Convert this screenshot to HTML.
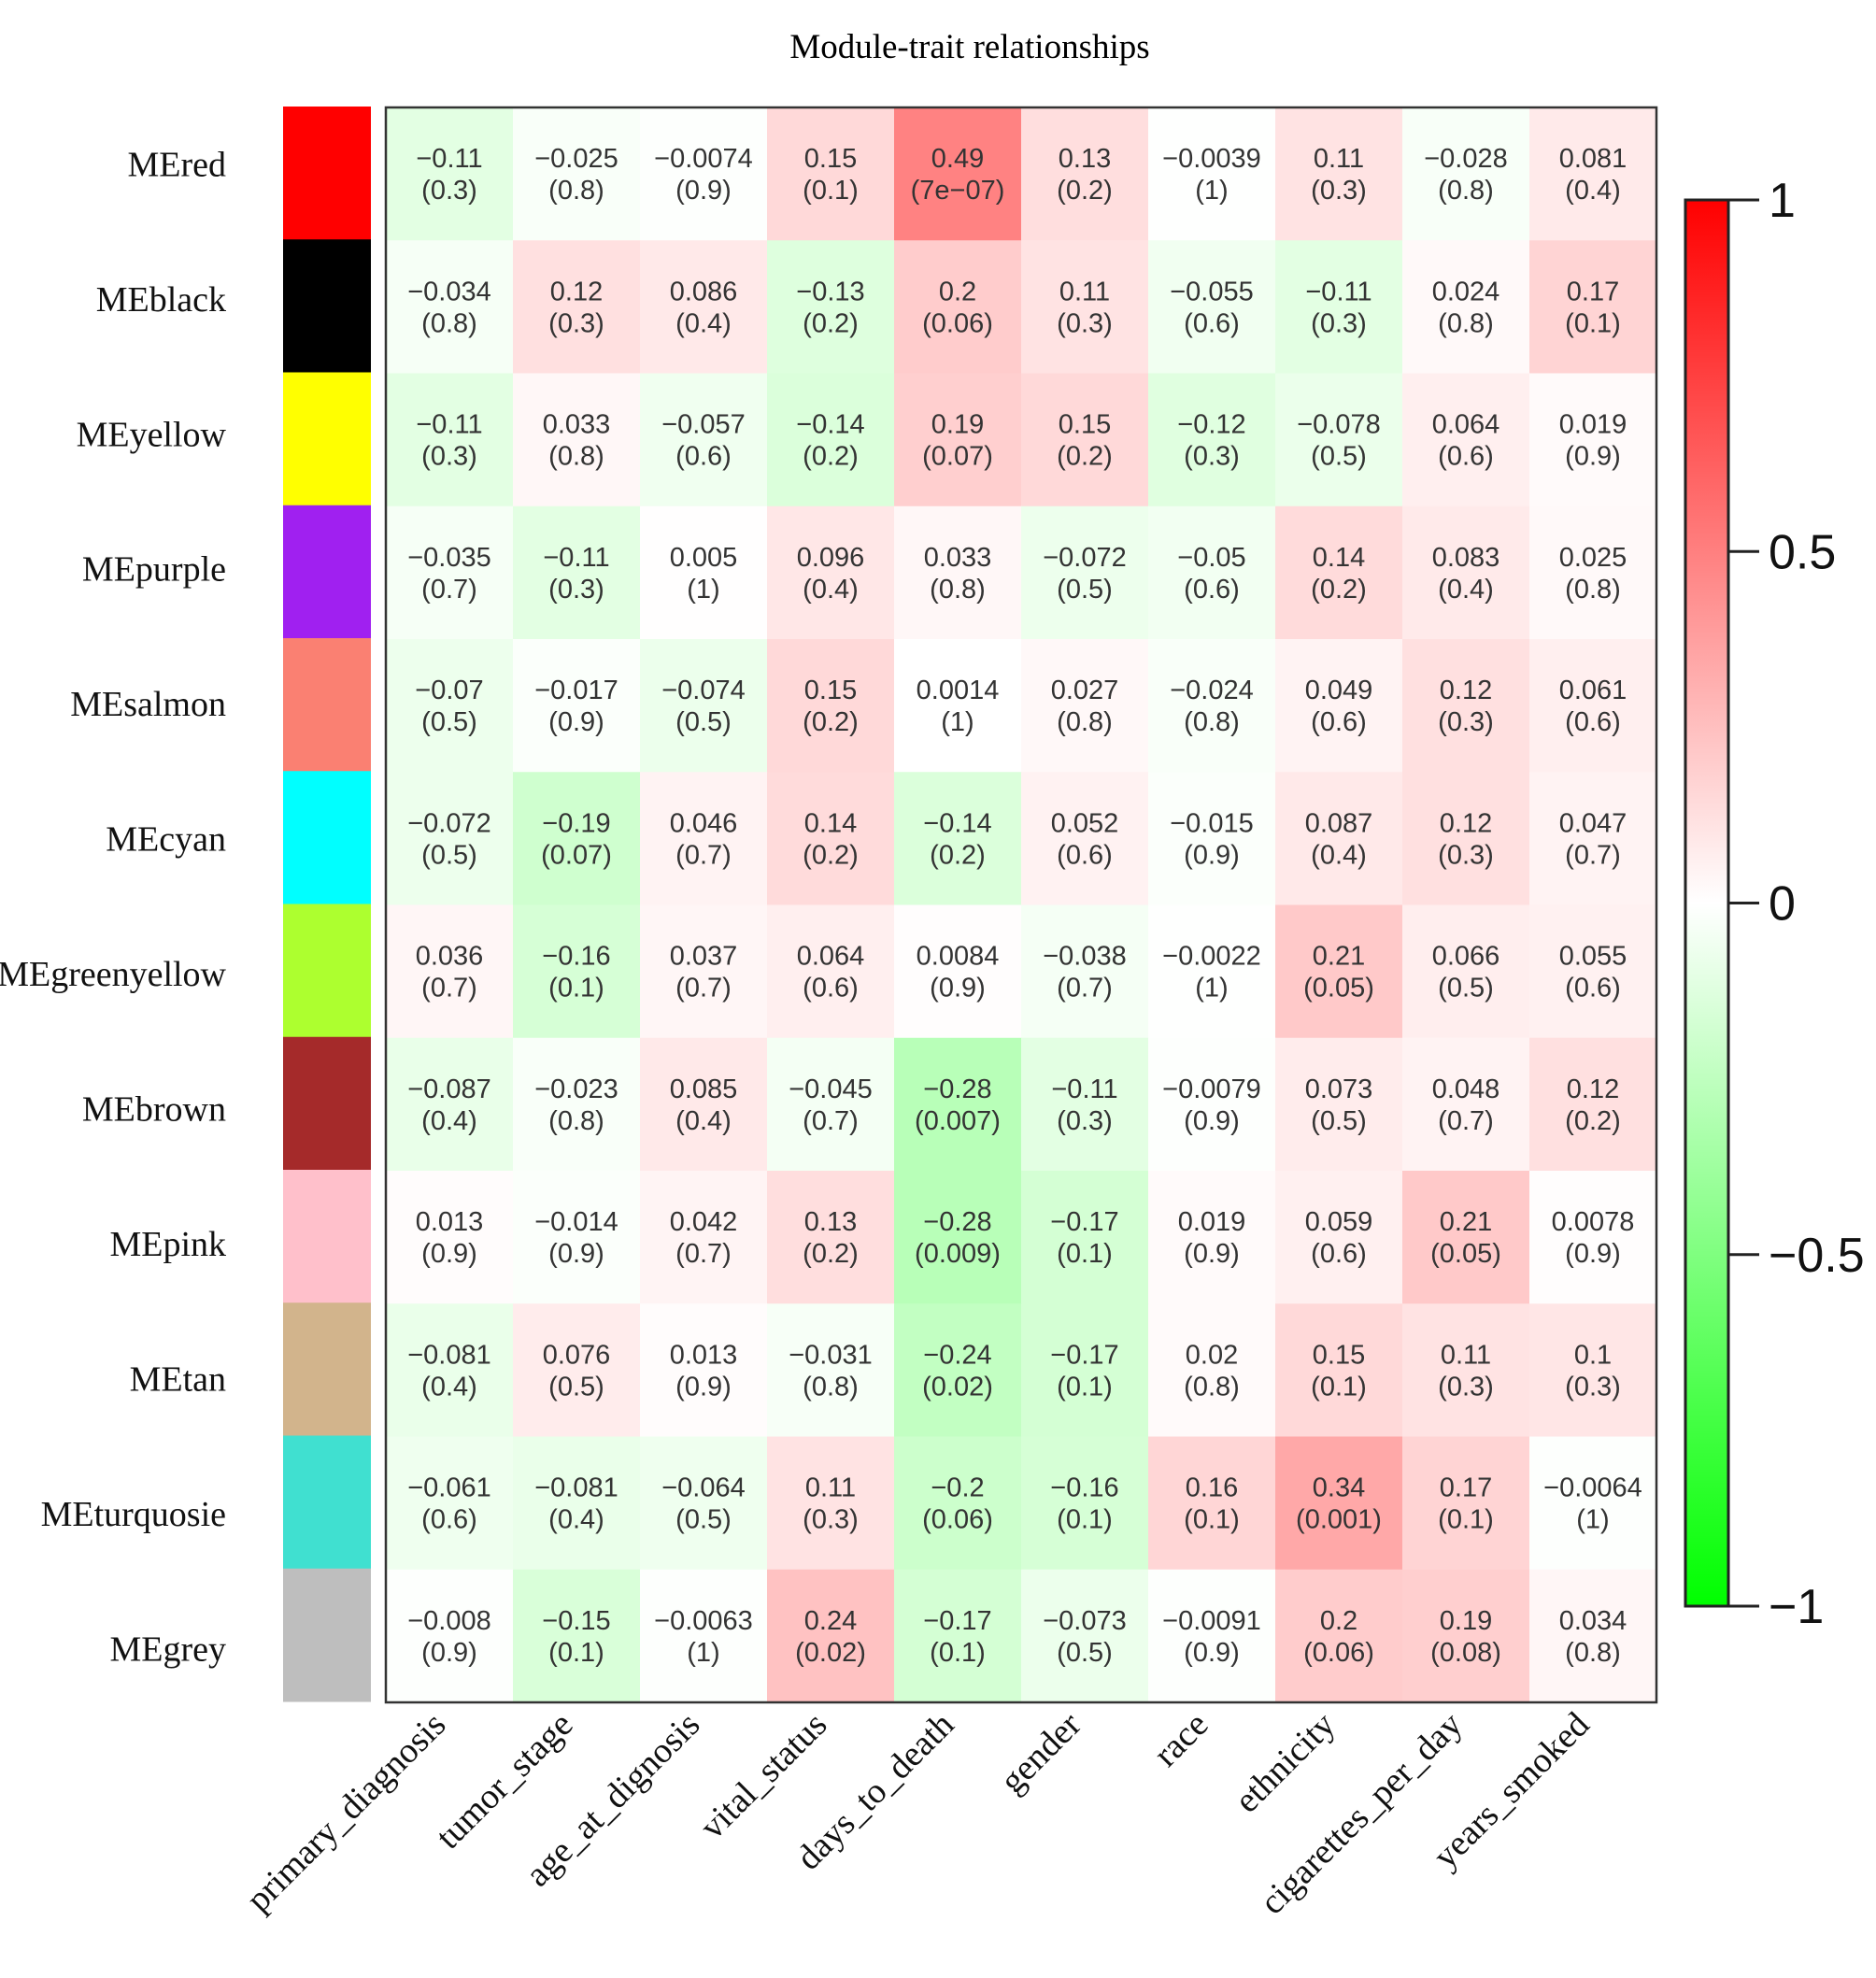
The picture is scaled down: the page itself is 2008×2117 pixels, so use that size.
<!DOCTYPE html>
<html><head><meta charset="utf-8"><style>
html,body{margin:0;padding:0;background:#fff;}
svg{display:block;}
</style></head><body>
<svg id="chart" width="2008" height="2117" viewBox="0 0 2008 2117" xmlns="http://www.w3.org/2000/svg">
<text x="1038" y="62" text-anchor="middle" font-family="Liberation Serif, serif" font-size="37">Module-trait relationships</text>
<g id="cells"></g>
<g id="modules"></g>
<g id="xlabels"></g>
<rect x="413" y="115" width="1360" height="1707" fill="none" stroke="#333" stroke-width="2.5"/>
<g id="colorbar"></g>
</svg>
<script>
const modules=["MEred","MEblack","MEyellow","MEpurple","MEsalmon","MEcyan","MEgreenyellow","MEbrown","MEpink","MEtan","MEturquosie","MEgrey"];
const moduleColors=["#ff0000","#000000","#ffff00","#a020f0","#fa8072","#00ffff","#adff2f","#a52a2a","#ffc0cb","#d2b48c","#40e0d0","#bebebe"];
const traits=["primary_diagnosis","tumor_stage","age_at_dignosis","vital_status","days_to_death","gender","race","ethnicity","cigarettes_per_day","years_smoked"];
const corr=[
["-0.11","-0.025","-0.0074","0.15","0.49","0.13","-0.0039","0.11","-0.028","0.081"],
["-0.034","0.12","0.086","-0.13","0.2","0.11","-0.055","-0.11","0.024","0.17"],
["-0.11","0.033","-0.057","-0.14","0.19","0.15","-0.12","-0.078","0.064","0.019"],
["-0.035","-0.11","0.005","0.096","0.033","-0.072","-0.05","0.14","0.083","0.025"],
["-0.07","-0.017","-0.074","0.15","0.0014","0.027","-0.024","0.049","0.12","0.061"],
["-0.072","-0.19","0.046","0.14","-0.14","0.052","-0.015","0.087","0.12","0.047"],
["0.036","-0.16","0.037","0.064","0.0084","-0.038","-0.0022","0.21","0.066","0.055"],
["-0.087","-0.023","0.085","-0.045","-0.28","-0.11","-0.0079","0.073","0.048","0.12"],
["0.013","-0.014","0.042","0.13","-0.28","-0.17","0.019","0.059","0.21","0.0078"],
["-0.081","0.076","0.013","-0.031","-0.24","-0.17","0.02","0.15","0.11","0.1"],
["-0.061","-0.081","-0.064","0.11","-0.2","-0.16","0.16","0.34","0.17","-0.0064"],
["-0.008","-0.15","-0.0063","0.24","-0.17","-0.073","-0.0091","0.2","0.19","0.034"]];
const pvals=[
["0.3","0.8","0.9","0.1","7e-07","0.2","1","0.3","0.8","0.4"],
["0.8","0.3","0.4","0.2","0.06","0.3","0.6","0.3","0.8","0.1"],
["0.3","0.8","0.6","0.2","0.07","0.2","0.3","0.5","0.6","0.9"],
["0.7","0.3","1","0.4","0.8","0.5","0.6","0.2","0.4","0.8"],
["0.5","0.9","0.5","0.2","1","0.8","0.8","0.6","0.3","0.6"],
["0.5","0.07","0.7","0.2","0.2","0.6","0.9","0.4","0.3","0.7"],
["0.7","0.1","0.7","0.6","0.9","0.7","1","0.05","0.5","0.6"],
["0.4","0.8","0.4","0.7","0.007","0.3","0.9","0.5","0.7","0.2"],
["0.9","0.9","0.7","0.2","0.009","0.1","0.9","0.6","0.05","0.9"],
["0.4","0.5","0.9","0.8","0.02","0.1","0.8","0.1","0.3","0.3"],
["0.6","0.4","0.5","0.3","0.06","0.1","0.1","0.001","0.1","1"],
["0.9","0.1","1","0.02","0.1","0.5","0.9","0.06","0.08","0.8"]];
const cbTicks=[1,0.5,0,-0.5,-1];

const NS="http://www.w3.org/2000/svg";
const X0=413,Y0=115,CW=136,RH=1707/12;
const xPos=j=>X0+j*CW;
const yPos=i=>Y0+i*RH;
function col(v){
  const t=Math.min(1,Math.abs(v));const k=Math.round(255*(1-t));
  return v>=0?`rgb(255,${k},${k})`:`rgb(${k},255,${k})`;
}
function mk(tag,attrs,parent){const e=document.createElementNS(NS,tag);for(const a in attrs)e.setAttribute(a,attrs[a]);parent.appendChild(e);return e;}
const cells=document.getElementById('cells');
for(let i=0;i<modules.length;i++){
  for(let j=0;j<traits.length;j++){
    const v=parseFloat(corr[i][j]);
    const r=mk('rect',{x:xPos(j),y:yPos(i),width:CW+0.5,height:RH+0.5,fill:col(v)},cells);
    
    
    const t=mk('text',{x:xPos(j)+CW/2,y:yPos(i)+RH/2-7,'text-anchor':'middle','font-family':'Liberation Sans, sans-serif','font-size':'29',fill:'#333'},cells);
    t.textContent=corr[i][j].replace('-','−');
    
    
    const p=mk('text',{x:xPos(j)+CW/2,y:yPos(i)+RH/2+27,'text-anchor':'middle','font-family':'Liberation Sans, sans-serif','font-size':'29',fill:'#333'},cells);
    p.textContent='('+pvals[i][j].replace('-','−')+')';
    
    
  }
}
const mg=document.getElementById('modules');
for(let i=0;i<modules.length;i++){
  const r=mk('rect',{x:303,y:yPos(i)-1,width:94,height:RH+0.5,fill:moduleColors[i]},mg);
  
  
  const t=mk('text',{x:242,y:(131+i*107.9)*1.3387+13,'text-anchor':'end','font-family':'Liberation Serif, serif','font-size':'38',fill:'#111'},mg);
  t.textContent=modules[i];
  
  
}
const xg=document.getElementById('xlabels');
for(let j=0;j<traits.length;j++){
  const x=xPos(j)+CW/2-2,y=1848;
  const t=mk('text',{x:x,y:y,'text-anchor':'end','font-family':'Liberation Serif, serif','font-size':'38',fill:'#111',transform:`rotate(-45 ${x} ${y})`},xg);
  t.textContent=traits[j];
  
  
}
const cb=document.getElementById('colorbar');
const CB_X=1804,CB_W=46,CB_T=214,CB_B=1719;
const cbY=v=>CB_T+(1-v)/2*(CB_B-CB_T);
const defs=mk('defs',{},cb);
const grad=mk('linearGradient',{id:'g',x1:0,y1:0,x2:0,y2:1},defs);
mk('stop',{offset:'0','stop-color':'#ff0000'},grad);
mk('stop',{offset:'0.5','stop-color':'#ffffff'},grad);
mk('stop',{offset:'1','stop-color':'#00ff00'},grad);
const cr=mk('rect',{x:CB_X,y:CB_T,width:CB_W,height:CB_B-CB_T,fill:'url(#g)',stroke:'#222','stroke-width':3},cb);


for(const v of cbTicks){
  const l=mk('line',{x1:CB_X+CB_W,x2:1883,y1:cbY(v),y2:cbY(v),stroke:'#222','stroke-width':3},cb);
  
  
  const t=mk('text',{x:1893,y:cbY(v)+18,'font-family':'Liberation Sans, sans-serif','font-size':'52',fill:'#111'},cb);
  t.textContent=String(v).replace('-','−');
  
  
}
</script>
</body></html>
